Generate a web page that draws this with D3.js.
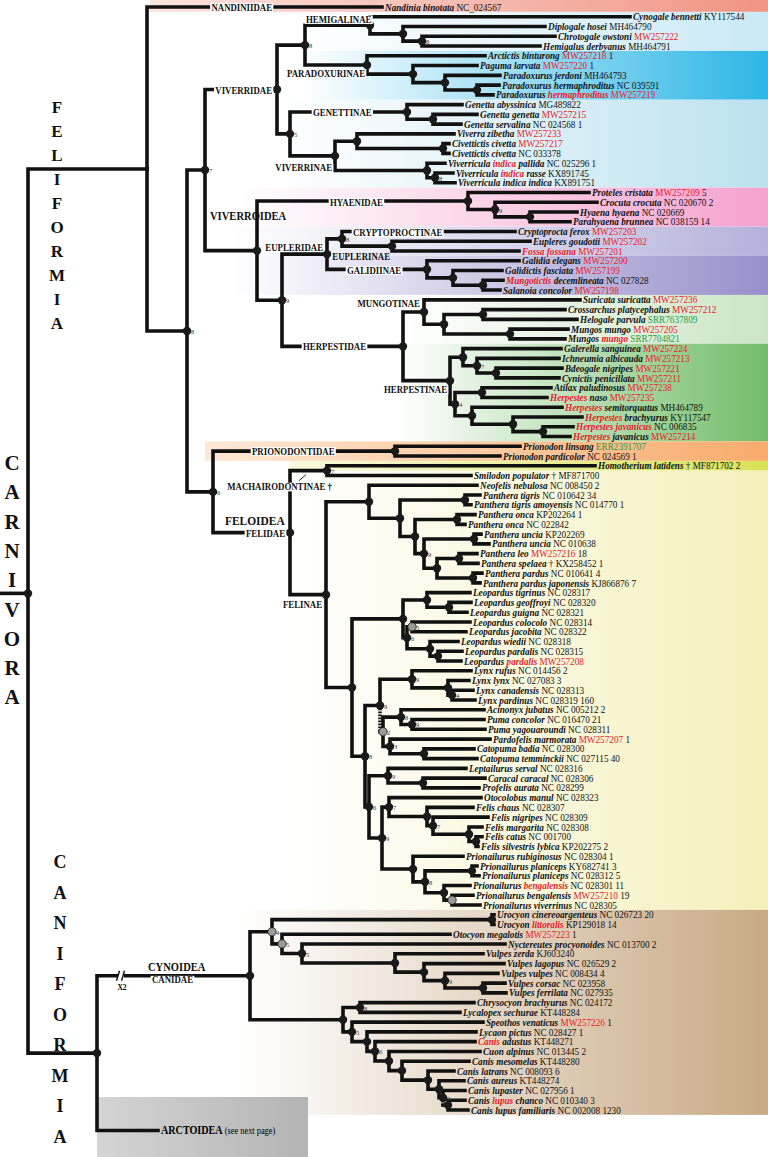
<!DOCTYPE html>
<html><head><meta charset="utf-8">
<script src="https://cdn.jsdelivr.net/npm/d3@7"></script>
<style>body{margin:0;background:#fff}svg{display:block}text{font-family:"Liberation Serif","Times New Roman",serif}</style>
</head><body><svg id="c" width="768" height="1157"></svg>
<script>
// ---------- DATA ----------
// leaf labels: segments separated by "|" ; first char = style (i bold-italic, I bold-italic red, n normal, r red, g green)
const leafLabels = [
"iNandinia binotata|n NC_024567","iCynogale bennetti|n KY117544","iDiplogale hosei|n MH464790","iChrotogale owstoni|r MW257222","iHemigalus derbyanus|n MH464791",
"iArctictis binturong|r MW257218|n 1","iPaguma larvata|r MW257220|n 1","iParadoxurus jerdoni|n MH464793","iParadoxurus hermaphroditus|n NC 039591","iParadoxurus |Ihermaphroditus|r MW257219",
"iGenetta abyssinica|n MG489822","iGenetta genetta|r MW257215","iGenetta servalina|n NC 024568 1","iViverra zibetha|r MW257233","iCivettictis civetta|r MW257217",
"iCivettictis civetta|n NC 033378","iViverricula |Iindica|i pallida|n NC 025296 1","iViverricula |Iindica|i rasse|n KX891745","iViverricula indica indica|n KX891751","iProteles cristata|r MW257209|n 5",
"iCrocuta crocuta|n NC 020670 2","iHyaena hyaena|n NC 020669","iParahyaena brunnea|n NC 038159 14","iCryptoprocta ferox|r MW257203","iEupleres goudotii|r MW257202",
"IFossa fossana|r MW257201","iGalidia elegans|r MW257200","iGalidictis fasciata|r MW257199","IMungotictis|i decemlineata|n NC 027828","iSalanoia concolor|r MW257198",
"iSuricata suricatta|r MW257236","iCrossarchus platycephalus|r MW257212","iHelogale parvula|g SRR7637809","iMungos mungo|r MW257205","iMungos |Imungo|g SRR7704821",
"iGalerella sanguinea|r MW257224","iIchneumia albicauda|r MW257213","iBdeogale nigripes|r MW257221","iCynictis penicillata|r MW257211","iAtilax paludinosus|r MW257238",
"IHerpestes|i naso|r MW257235","IHerpestes|i semitorquatus|n MH464789","IHerpestes|i brachyurus|n KY117547","IHerpestes javanicus|n NC 006835","IHerpestes|i javanicus|r MW257214",
"iPrionodon linsang|g ERR2391707","iPrionodon pardicolor|n NC 024569 1","iHomotherium latidens|n † MF871702 2","iSmilodon populator|n † MF871700","iNeofelis nebulosa|n NC 008450 2",
"iPanthera tigris|n NC 010642 34","iPanthera tigris amoyensis|n NC 014770 1","iPanthera onca|n KP202264 1","iPanthera onca|n NC 022842","iPanthera uncia|n KP202269",
"iPanthera uncia|n NC 010638","iPanthera leo|r MW257216|n 18","iPanthera spelaea|n † KX258452 1","iPanthera pardus|n NC 010641 4","iPanthera pardus japonensis|n KJ866876 7",
"iLeopardus tigrinus|n NC 028317","iLeopardus geoffroyi|n NC 028320","iLeopardus guigna|n NC 028321","iLeopardus colocolo|n NC 028314","iLeopardus jacobita|n NC 028322",
"iLeopardus wiedii|n NC 028318","iLeopardus pardalis|n NC 028315","iLeopardus |Ipardalis|r MW257208","iLynx rufus|n NC 014456 2","iLynx lynx|n NC 027083 3",
"iLynx canadensis|n NC 028313","iLynx pardinus|n NC 028319 160","iAcinonyx jubatus|n NC 005212 2","iPuma concolor|n NC 016470 21","iPuma yagouaroundi|n NC 028311",
"iPardofelis marmorata|r MW257207|n 1","iCatopuma badia|n NC 028300","iCatopuma temminckii|n NC 027115 40","iLeptailurus serval|n NC 028316","iCaracal caracal|n NC 028306",
"iProfelis aurata|n NC 028299","iOtocolobus manul|n NC 028323","iFelis chaus|n NC 028307","iFelis nigripes|n NC 028309","iFelis margarita|n NC 028308",
"iFelis catus|n NC 001700","iFelis silvestris lybica|n KP202275 2","iPrionailurus rubiginosus|n NC 028304 1","iPrionailurus planiceps|n KY682741 3","iPrionailurus planiceps|n NC 028312 5",
"iPrionailurus |Ibengalensis|n NC 028301 11","iPrionailurus bengalensis|r MW257210|n 19","iPrionailurus viverrinus|n NC 028305","iUrocyon cinereoargenteus|n NC 026723 20","iUrocyon |Ilittoralis|n KP129018 14",
"iOtocyon megalotis|r MW257223|n 1","iNyctereutes procyonoides|n NC 013700 2","iVulpes zerda|n KJ603240","iVulpes lagopus|n NC 026529 2","iVulpes vulpes|n NC 008434 4",
"iVulpes corsac|n NC 023958","iVulpes ferrilata|n NC 027935","iChrysocyon brachyurus|n NC 024172","iLycalopex sechurae|n KT448284","iSpeothos venaticus|r MW257226|n 1",
"iLycaon pictus|n NC 028427 1","ICanis|i adustus|n KT448271","iCuon alpinus|n NC 013445 2","iCanis mesomelas|n KT448280","iCanis latrans|n NC 008093 6",
"iCanis aureus|n KT448274","iCanis lupaster|n NC 027956 1","iCanis |Ilupus|i chanco|n NC 010340 3","iCanis lupus familiaris|n NC 002008 1230"
];

// tree (Newick). number after ":" = node depth (distance units along the x axis);
// internal names: support value + dot type (b black, g grey, o none), d = hatched branch
const feliformia = "(L0:382,(((((L1:630,(L2:545,(L3:555,L4:540)8b:422)b:403)b:370,(L5:485,(L6:477,(L7:500,(L8:499,L9:493)b:477)b:445)b:413)b:367)8b:305,((L10:462,(L11:477,L12:461)b:433)b:407,((L13:454,(L14:449,L15:449)b:443)b:357,(L16:445,(L17:453,L18:455)8b:435)b:427)b:335)5b:290)b:277,((L19:589,(L20:597,(L21:577,L22:570)b:530)9b:495)b:468,(((L23:515,(L24:530,L25:519)b:392)8b:342,(L26:519,(L27:502,(L28:503,L29:500)b:483)b:453)b:427)b:327,((L30:580,((L31:565,L32:577)b:483,(L33:568,L34:565)b:510)b:444)b:424,((L35:561,(L36:559,(L37:562,L38:559)b:496)7b:477)b:463,((L39:551,L40:547)b:482,(L41:562,(L42:582,(L43:573,L44:570)b:543)b:513)b:472)4b:455)b:450)b:403)9b:282)b:257)7b:205,((L45:520,L46:500)b:395,((L47:595,L48:471)7b:327,((L49:477,((L50:480,L51:471)b:465,((L52:475,L53:465)b:457,((L54:481,L55:489)b:474,((L56:477,L57:478)b:459,(L58:482,L59:480)b:473)b:437)9b:424)b:415)b:400)b:369,(((L60:470,(L61:471,L62:467)b:449)b:427,((L63:470,L64:466)5g:412,(L65:458,(L66:462,L67:461)b:438)b:430)6b:407)b:403,(((L68:471,(L69:469,(L70:473,L71:475)4b:452)b:448)9b:412,((L72:484,(L73:484,L74:485)9b:412)8b:401,(L75:490,(L76:474,L77:477)b:424)3b:390)2gd:383)9b:380,((L78:466,(L79:485,L80:479)b:423)9b:388,((L81:481,(L82:473,(L83:488,(L84:482,(L85:482,L86:478)b:476)b:469)7b:433)b:427)7b:389,(L87:463,((L88:477,L89:479)b:472,(L90:470,(L91:473,L92:480)g:452)b:444)8b:425)b:413)9b:382)6b:369)8b:365)b:352)b:326)b:290)6b:213)8b:187)o:147";
const caniformia = "((((L93:494,L94:494)b:492,(L95:450,(L96:505,(L97:483,(L98:504,(L99:498,(L100:505,L101:506)b:483)9b:445)b:424)b:395)5b:302)5g:282)4g:272,((L102:474,L103:460)8b:360,(L104:483,(L105:476,(L106:475,(L107:480,(L108:469,(L109:454,(L110:464,(L111:465,(L112:465,L113:468)db:448)9b:443)b:439)b:428)b:402)b:389)6b:375)b:367)5b:352)b:343)b:250,ARC:158)b:97";
const treeNewick = "(" + feliformia + "," + caniformia + ")b:28;";

// clade names and the leaf range they span
const cladeNames  = ["NANDINIIDAE","HEMIGALINAE","PARADOXURINAE","VIVERRIDAE","GENETTINAE","VIVERRINAE","VIVERROIDEA","HYAENIDAE","CRYPTOPROCTINAE","EUPLERIDAE","EUPLERINAE","GALIDIINAE","MUNGOTINAE","HERPESTIDAE","HERPESTINAE","PRIONODONTIDAE","MACHAIRODONTINAE †","FELIDAE","FELINAE","FELOIDEA","CYNOIDEA","CANIDAE"];
const cladeLeaves = [[0,0],[1,4],[5,9],[1,18],[10,12],[13,18],[1,44],[19,22],[23,23],[23,29],[24,25],[26,29],[30,34],[30,44],[35,44],[45,46],[47,48],[47,92],[49,92],[45,92],[93,113],[93,113]];

// shaded groups (leaf index ranges) and colours
const bandFrom  = [0,1,5,10,19,23,26,30,35,45,47,48,93];
const bandTo    = [0,4,9,18,22,25,29,34,44,46,47,92,113];
const bandColor = ["#f19484","#c9e9f6","#2db6e6","#bbe1ef","#f5a2ce","#b5b2db","#9890cb","#cbe5c4","#72bd69","#f8ab6c","#d9e258","#f4f0bb","#c8a984"];

const orderNames = ["FELIFORMIA","CARNIVORA","CANIFORMIA"];

// ---------- LAYOUT ----------
const svg = d3.select("#c");
const W = 768, H = 1157;
const nLeafSlots = 114;
const yS = d3.scaleLinear().domain([0, nLeafSlots - 1]).range([7, 1110]);
const xS = d3.scaleLinear().domain([0, 768]).range([0, 768]);

function parseNewick(s){
  let i = 0;
  function node(){
    const n = {};
    if (s[i] === '('){
      i++; n.children = [node()];
      while (s[i] === ','){ i++; n.children.push(node()); }
      i++;
    }
    let name = '';
    while (i < s.length && !':,);'.includes(s[i])) name += s[i++];
    n.name = name;
    if (s[i] === ':'){ i++; let num=''; while (i < s.length && !',);'.includes(s[i])) num += s[i++]; n.depth = +num; }
    return n;
  }
  return node();
}
const root = d3.hierarchy(parseNewick(treeNewick));
const leafNode = {};
root.leaves().forEach(l => {
  if (l.data.name === 'ARC') { l.yy = yS(115.1); }
  else { const k = +l.data.name.slice(1); l.yy = yS(k); leafNode[k] = l; }
});
root.eachAfter(n => { if (n.children) n.yy = (n.children[0].yy + n.children[n.children.length-1].yy) / 2; });
// the root stub is drawn nearer the upper (larger) clade, as in the source figure
root.yy = root.children[0].yy + (root.children[1].yy - root.children[0].yy) * 0.48;
root.each(n => { n.xx = xS(n.data.depth); });

// defs / gradients for bands
const defs = svg.append("defs");
const bandLeft = [150,300,300,280,240,230,230,400,400,205,290,290,240];
const bandLeftCol = ["#fbe4df","#ffffff","#ffffff","#ffffff","#ffffff","#ffffff","#ffffff","#ffffff","#ffffff","#fde9d6","#fbf9df","#ffffff","#ffffff"];
bandFrom.forEach((f, k) => {
  const gid = "bg" + k;
  const g = defs.append("linearGradient").attr("id", gid).attr("gradientUnits","userSpaceOnUse")
    .attr("x1", bandLeft[k]).attr("x2", W).attr("y1",0).attr("y2",0);
  g.append("stop").attr("offset",0).attr("stop-color", bandLeftCol[k]);
  g.append("stop").attr("offset",1).attr("stop-color", bandColor[k]);
  const half = (yS(1) - yS(0)) / 2;
  const y0 = f === 0 ? 0 : yS(f) - half;
  const y1 = yS(bandTo[k]) + half;
  svg.append("rect").attr("x", bandLeft[k]).attr("y", y0).attr("width", W - bandLeft[k]).attr("height", y1 - y0)
    .attr("fill", `url(#${gid})`);
});

// Arctoidea grey box
const ag = defs.append("linearGradient").attr("id","arcg").attr("x1",0).attr("x2",1);
ag.append("stop").attr("offset",0).attr("stop-color","#d4d4d4");
ag.append("stop").attr("offset",1).attr("stop-color","#b4b4b4");
svg.append("rect").attr("x",97).attr("y",1097).attr("width",211).attr("height",60).attr("fill","url(#arcg)");

// branches
const gl = svg.append("g").attr("fill","none").attr("stroke","#111").attr("stroke-width",3.6).attr("stroke-linecap","square");
root.descendants().forEach(n => {
  if (!n.parent) return;
  const p = n.parent;
  if (n.data.name.includes('d')) {
    gl.append("path").attr("d", `M${p.xx},${p.yy}V${n.yy}`).attr("stroke-dasharray","1.6,1.4").attr("stroke-linecap","butt");
    gl.append("path").attr("d", `M${p.xx},${n.yy}H${n.xx}`);
  } else {
    gl.append("path").attr("d", `M${p.xx},${p.yy}V${n.yy}H${n.xx}`);
  }
});
// root stub
gl.append("path").attr("d", `M0,${root.yy}H${root.xx}`);

// break on Cynoidea stem
const canid = root.children[1].children[0];
const bx = 121;
svg.append("rect").attr("x", bx-3).attr("y", canid.yy-4).attr("width",6).attr("height",8).attr("fill","#fff");
[-3,2].forEach(o => svg.append("line").attr("x1",bx+o-1.5).attr("x2",bx+o+1.5).attr("y1",canid.yy+5).attr("y2",canid.yy-5).attr("stroke","#111").attr("stroke-width",1.4));
svg.append("text").attr("x",bx+1).attr("y",canid.yy+14).attr("font-size",7.5).attr("font-weight","bold").attr("text-anchor","middle").text("X2");

// node dots + support values
root.descendants().filter(n => n.children).forEach(n => {
  const nm = n.data.name;
  const sup = nm.replace(/[a-z]/g,'');
  const t = nm.includes('g') ? 'g' : (nm.includes('o') ? 'o' : 'b');
  if (t !== 'o') {
    svg.append("circle").attr("cx", n.xx).attr("cy", n.yy).attr("r", 4.2)
      .attr("fill", t === 'g' ? "#9b9b9b" : "#1a1a1a").attr("stroke", "#111").attr("stroke-width", t==='g'?0.8:0);
  }
  if (sup) svg.append("text").attr("x", n.xx + 4).attr("y", n.yy + 3).attr("font-size", 6.5).attr("fill","#333").text(sup);
});

// leaf labels
const styleMap = {
  i:{w:"bold", s:"italic", c:"#111"}, I:{w:"bold", s:"italic", c:"#ea2027"},
  n:{w:"normal", s:"normal", c:"#111"}, r:{w:"normal", s:"normal", c:"#ea2027"}, g:{w:"normal", s:"normal", c:"#1e9e4a"}
};
leafLabels.forEach((lab, k) => {
  const l = leafNode[k];
  const t = svg.append("text").attr("transform", `translate(${l.xx + 3},${l.yy + 3.6}) scale(0.875,1)`)
    .attr("font-size", 10.5).style("white-space","pre");
  lab.split("|").forEach(seg => {
    const st = styleMap[seg[0]];
    t.append("tspan").attr("font-weight", st.w).attr("font-style", st.s).attr("fill", st.c).text(seg.slice(1));
  });
});

// clade labels
function mrca(a, b){ const A = leafNode[a], B = leafNode[b]; return A.ancestors().find(n => n.leaves().includes(B)); }
const cladeLayout = [
  {ref:"p", dx:125, dy:0, a:"end", bg:1}, {ref:"p", dx:1, dy:-6, a:"start", bg:1}, {ref:"n", dx:-2, dy:8, a:"end", bg:1},
  {ref:"n", dx:-5, dy:1, a:"end", bg:1}, {ref:"p", dx:23, dy:0, a:"start", bg:1}, {ref:"n", dx:-3, dy:12, a:"end", bg:1},
  {ref:"n", dx:5, dy:45, a:"start", bg:0}, {ref:"p", dx:73, dy:1, a:"start", bg:1}, {ref:"p", dx:11, dy:1, a:"start", bg:1},
  {ref:"n", dx:-4, dy:-7, a:"end", bg:1}, {ref:"n", dx:-2, dy:10, a:"end", bg:0}, {ref:"p", dx:20, dy:1, a:"start", bg:1},
  {ref:"n", dx:-4, dy:-9, a:"end", bg:1}, {ref:"p", dx:21, dy:0, a:"start", bg:1}, {ref:"n", dx:-3, dy:9, a:"end", bg:1},
  {ref:"p", dx:39, dy:0, a:"start", bg:1}, {ref:"n", dx:5, dy:16, a:"end", bg:1}, {ref:"n", dx:-5, dy:1, a:"end", bg:1},
  {ref:"n", dx:-4, dy:10, a:"end", bg:1}, {ref:"n", dx:12, dy:29, a:"start", bg:0}, {ref:"p", dx:51, dy:-9, a:"start", bg:1},
  {ref:"p", dx:55, dy:4, a:"start", bg:1}
];
cladeNames.forEach((name, k) => {
  const [a, b] = cladeLeaves[k];
  const n = a === b ? leafNode[a] : mrca(a, b);
  const L = cladeLayout[k];
  const x = (L.ref === "p" ? n.parent.xx : n.xx) + L.dx;
  const y = n.yy + L.dy;
  const big = (name === "VIVERROIDEA" || name === "FELOIDEA" || name === "CYNOIDEA");
  const fs = name === "FELOIDEA" ? 13 : (big ? 12 : 10);
  const g = svg.append("g").attr("transform", `translate(${x},${y}) scale(0.88,1)`);
  const t = g.append("text").attr("text-anchor", L.a).attr("y", big ? 4.5 : 3.6)
    .attr("font-size", fs).attr("font-weight","bold").attr("fill","#111").text(name);
  if (L.bg) {
    const bb = t.node().getBBox();
    g.insert("rect","text").attr("x", bb.x - 1.5).attr("y", bb.y + 1).attr("width", bb.width + 3).attr("height", bb.height - 2).attr("fill","#fff");
  }
});
// machairodontinae pointer
const mach = mrca(47,48);
svg.append("line").attr("x1", mach.xx - 28).attr("y1", mach.yy + 10).attr("x2", mach.xx - 21).attr("y2", mach.yy + 4).attr("stroke","#111").attr("stroke-width",0.9);

// Arctoidea label
const arc = root.leaves().find(l => l.data.name === 'ARC');
const at = svg.append("text").attr("transform", `translate(${arc.xx + 3},${arc.yy + 4}) scale(0.88,1)`).attr("font-size", 11.5).style("white-space","pre");
at.append("tspan").attr("font-weight","bold").text("ARCTOIDEA");
at.append("tspan").attr("font-size", 9.5).text(" (see next page)");

// order names (vertical stacks of letters)
const orderX = [57, 12, 60], orderY0 = [107, 463, 862], orderStep = [24, 29.3, 30.5], orderSize = [17, 21, 18];
orderNames.forEach((nm, k) => {
  nm.split('').forEach((ch, j) => {
    svg.append("text").attr("x", orderX[k]).attr("y", orderY0[k] + j * orderStep[k]).attr("text-anchor","middle")
      .attr("dominant-baseline","central").attr("font-size", orderSize[k]).attr("font-weight","bold").attr("fill","#111").text(ch);
  });
});
</script></body></html>
